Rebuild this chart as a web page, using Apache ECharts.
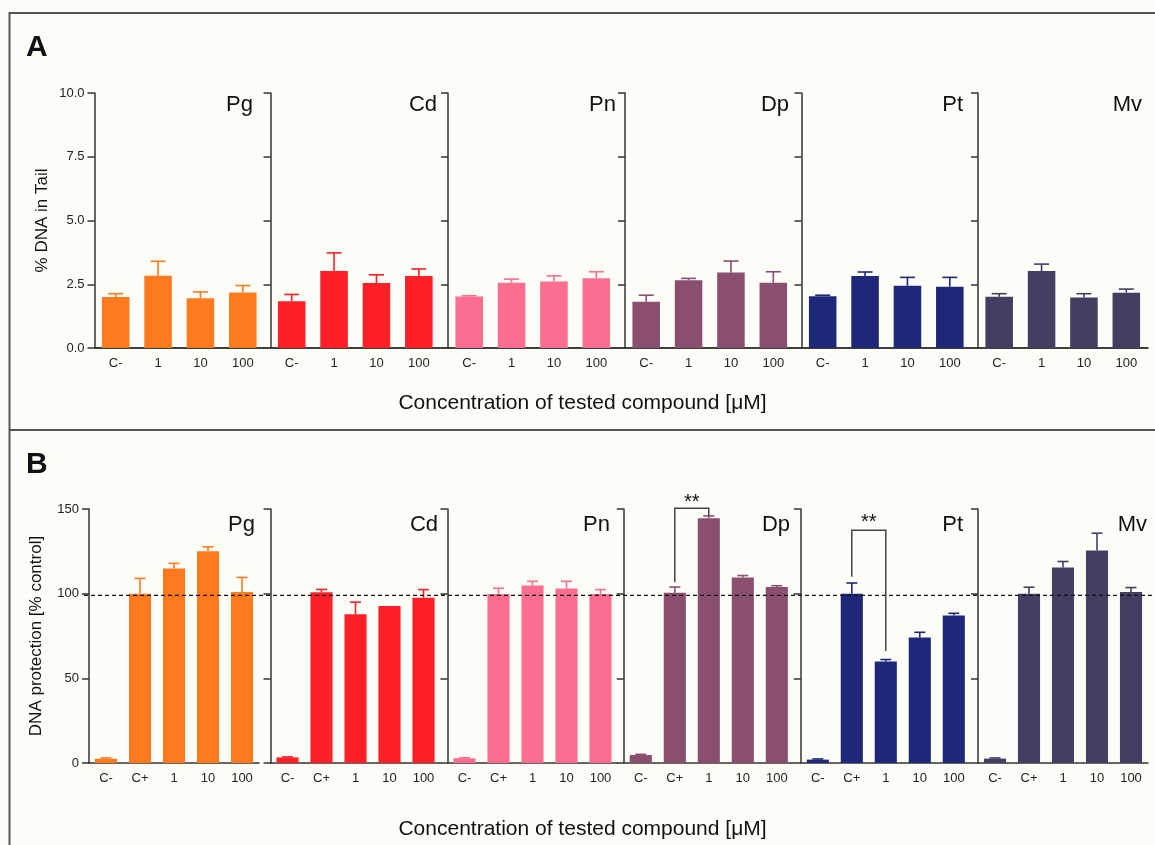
<!DOCTYPE html>
<html><head><meta charset="utf-8">
<script src="https://cdn.jsdelivr.net/npm/echarts@6/dist/echarts.min.js"></script>
<style>html,body{margin:0;padding:0;background:#fdfdf8;}#c{width:1155px;height:845px;}</style>
</head><body><div id="c"></div>
<script>
// ---------- data ----------
const panels = ['Pg', 'Cd', 'Pn', 'Dp', 'Pt', 'Mv'];
const colors = ['#ff7a1f', '#ff1f26', '#fc6e90', '#8a4e6e', '#1f2878', '#443e63'];
const catsA = ['C-', '1', '10', '100'];
const catsB = ['C-', 'C+', '1', '10', '100'];
const ticksA = [0, 2.5, 5, 7.5, 10];
const ticksB = [0, 50, 100, 150];

// Panel A: % DNA in tail (mean, SD)
const tailPg = [2.00, 2.83, 1.95, 2.18];   const tailPgErr = [0.13, 0.57, 0.25, 0.27];
const tailCd = [1.83, 3.02, 2.55, 2.82];   const tailCdErr = [0.27, 0.71, 0.32, 0.28];
const tailPn = [2.02, 2.56, 2.61, 2.74];   const tailPnErr = [0.03, 0.14, 0.22, 0.25];
const tailDp = [1.81, 2.66, 2.96, 2.56];   const tailDpErr = [0.26, 0.07, 0.45, 0.43];
const tailPt = [2.03, 2.82, 2.44, 2.40];   const tailPtErr = [0.04, 0.16, 0.33, 0.37];
const tailMv = [2.01, 3.02, 1.98, 2.17];   const tailMvErr = [0.12, 0.27, 0.15, 0.14];

// Panel B: DNA protection [% control] (mean, SD)
const protPg = [2.5, 100.0, 114.8, 125.0, 101.0];  const protPgErr = [0.5, 9.0, 3.1, 2.6, 8.6];
const protCd = [3.3, 100.8, 87.8, 92.7, 97.6];     const protCdErr = [0.3, 1.7, 7.2, 0, 4.8];
const protPn = [2.8, 99.8, 104.8, 103.0, 99.8];    const protPnErr = [0.3, 3.4, 2.5, 4.3, 2.6];
const protDp = [4.7, 100.6, 144.5, 109.5, 103.9];  const protDpErr = [0.4, 3.3, 1.4, 1.2, 0.8];
const protPt = [2.0, 100.0, 59.9, 74.1, 87.1];     const protPtErr = [0.4, 6.3, 1.2, 3.1, 1.3];
const protMv = [2.6, 100.0, 115.5, 125.5, 101.0];  const protMvErr = [0.4, 3.8, 3.5, 10.2, 2.6];

const controlLine = 99;

// significance brackets in panel B: [panelIndex, fromCat, toCat, topValue, leftBottom, rightBottom, starValue]
const bracketDp = [3, 1, 2, 150.4, 106.7, 146.0, 156.3];
const bracketPt = [4, 1, 2, 137.4, 110.0, 66.2, 145.0];
const sigLabel = '**';

const tailMeans = [tailPg, tailCd, tailPn, tailDp, tailPt, tailMv];
const tailErrs = [tailPgErr, tailCdErr, tailPnErr, tailDpErr, tailPtErr, tailMvErr];
const protMeans = [protPg, protCd, protPn, protDp, protPt, protMv];
const protErrs = [protPgErr, protCdErr, protPnErr, protDpErr, protPtErr, protMvErr];
const brackets = [bracketDp, bracketPt];

// ---------- layout ----------
const FONT = 'Liberation Sans, Arial, Helvetica, sans-serif';
const AX = '#333';
const leftsA = [94.5, 270.5, 448, 625, 801.5, 978];
const leftsB = [89, 270.5, 447.5, 623.8, 800.8, 978];
const titleRightA = [253, 437, 616, 789, 963, 1142];
const titleRightB = [255, 438, 610, 790, 963, 1147];
const A_TOP = 93, A_H = 255, B_TOP = 509, B_H = 254;

const chart = echarts.init(document.getElementById('c'), null, {renderer: 'canvas'});

const grid = [], xAxis = [], yAxis = [], series = [], graphic = [];

function errRender(color, capW) {
  return function (params, api) {
    const x = api.value(0), m = api.value(1), t = api.value(2);
    if (!(t > m)) return null;
    const p0 = api.coord([x, m]), p1 = api.coord([x, t]);
    const h = capW / 2;
    return {type: 'group', children: [
      {type: 'line', shape: {x1: p0[0], y1: p0[1], x2: p1[0], y2: p1[1]}, style: {stroke: color, lineWidth: 1.6}},
      {type: 'line', shape: {x1: p1[0] - h, y1: p1[1], x2: p1[0] + h, y2: p1[1]}, style: {stroke: color, lineWidth: 1.6}}
    ]};
  };
}

function addPanel(idx, left, top, width, height, cats, means, errs, ticks, isFirst, yName, yFmt, capW, color) {
  grid.push({left: left, top: top, width: width, height: height});
  xAxis.push({
    type: 'category', gridIndex: idx, data: cats,
    axisLine: {lineStyle: {color: AX, width: 1.5}},
    axisTick: {alignWithLabel: true, length: 7, lineStyle: {color: AX, width: 1.5}},
    axisLabel: {fontSize: 13, color: '#222', margin: 9, fontFamily: FONT}
  });
  yAxis.push({
    type: 'value', gridIndex: idx, min: ticks[0], max: ticks[ticks.length - 1],
    interval: ticks[1] - ticks[0],
    axisLine: {show: true, lineStyle: {color: AX, width: 1.5}},
    axisTick: {show: true, length: 7, lineStyle: {color: AX, width: 1.5}},
    axisLabel: {show: isFirst, fontSize: 13, color: '#222', margin: 10, fontFamily: FONT, formatter: yFmt},
    splitLine: {show: false},
    name: isFirst ? yName : '', nameLocation: 'middle', nameGap: isFirst ? 44 : 0,
    nameTextStyle: {fontSize: 17, color: '#111', fontFamily: FONT}
  });
  series.push({
    type: 'bar', xAxisIndex: idx, yAxisIndex: idx, data: means,
    barWidth: '65%', itemStyle: {color: color}, silent: true, animation: false
  });
  series.push({
    type: 'custom', xAxisIndex: idx, yAxisIndex: idx, clip: false, animation: false, silent: true,
    data: means.map((m, i) => [i, m, m + errs[i]]),
    renderItem: errRender(color, capW), z: 3
  });
}

let gi = 0;
const aStart = gi;
for (let p = 0; p < panels.length; p++) {
  addPanel(gi++, leftsA[p], A_TOP, 169.5, A_H, catsA, tailMeans[p], tailErrs[p], ticksA, p === 0,
    '% DNA in Tail', v => v.toFixed(1), 15, colors[p]);
}
const bStart = gi;
for (let p = 0; p < panels.length; p++) {
  addPanel(gi++, leftsB[p], B_TOP, 170, B_H, catsB, protMeans[p], protErrs[p], ticksB, p === 0,
    'DNA protection [% control]', v => String(v), 11, colors[p]);
}

// continuous baseline across panel A
grid.push({left: 95, top: A_TOP, width: 1053, height: A_H});
xAxis.push({type: 'value', gridIndex: gi, min: 0, max: 1, axisLine: {show: true, onZero: false, lineStyle: {color: AX, width: 1.5}},
  axisTick: {show: false}, axisLabel: {show: false}, splitLine: {show: false}});
yAxis.push({type: 'value', gridIndex: gi, min: 0, max: 10, show: false});
gi++;

// dashed control line across panel B
grid.push({left: 84, top: B_TOP, width: 1071, height: B_H});
xAxis.push({type: 'value', gridIndex: gi, min: 0, max: 1, show: false});
yAxis.push({type: 'value', gridIndex: gi, min: ticksB[0], max: ticksB[ticksB.length - 1], show: false});
series.push({type: 'line', xAxisIndex: gi, yAxisIndex: gi, data: [[0, controlLine], [1, controlLine]],
  symbol: 'none', silent: true, animation: false, z: 5,
  lineStyle: {color: '#111', width: 1.3, type: [4, 3]}});
gi++;

// significance brackets
brackets.forEach(b => {
  const idx = bStart + b[0];
  series.push({
    type: 'custom', xAxisIndex: idx, yAxisIndex: idx, clip: false, animation: false, silent: true, z: 6,
    data: [[b[1], b[2], b[3], b[4], b[5], b[6]]],
    renderItem: function (params, api) {
      const f = api.value(0), t = api.value(1), top = api.value(2), lb = api.value(3), rb = api.value(4), sv = api.value(5);
      const pl = api.coord([f, lb]), plt = api.coord([f, top]), prt = api.coord([t, top]), pr = api.coord([t, rb]);
      const ps = api.coord([(f + t) / 2, sv]);
      return {type: 'group', children: [
        {type: 'polyline', shape: {points: [pl, plt, prt, pr]}, style: {stroke: '#444', lineWidth: 1.5, fill: null}},
        {type: 'text', x: (plt[0] + prt[0]) / 2, y: ps[1] + 4.6,
          style: {text: sigLabel, fontSize: 20, fontFamily: FONT, fill: '#111', align: 'center', verticalAlign: 'middle'}}
      ]};
    }
  });
});

// panel titles
panels.forEach((name, p) => {
  graphic.push({type: 'text', x: titleRightA[p], y: 105, silent: true,
    style: {text: name, fontSize: 22, fontFamily: FONT, fill: '#111', align: 'right', verticalAlign: 'middle'}});
  graphic.push({type: 'text', x: titleRightB[p], y: 524.5, silent: true,
    style: {text: name, fontSize: 22, fontFamily: FONT, fill: '#111', align: 'right', verticalAlign: 'middle'}});
});

// panel letters and x-axis titles
graphic.push({type: 'text', x: 26, y: 48, style: {text: 'A', fontSize: 30, fontWeight: 'bold', fontFamily: FONT, fill: '#111', verticalAlign: 'middle'}});
graphic.push({type: 'text', x: 26, y: 465, style: {text: 'B', fontSize: 30, fontWeight: 'bold', fontFamily: FONT, fill: '#111', verticalAlign: 'middle'}});
graphic.push({type: 'text', x: 582.5, y: 403, style: {text: 'Concentration of tested compound [\u03bcM]', fontSize: 21, fontFamily: FONT, fill: '#111', align: 'center', verticalAlign: 'middle'}});
graphic.push({type: 'text', x: 582.5, y: 829, style: {text: 'Concentration of tested compound [\u03bcM]', fontSize: 21, fontFamily: FONT, fill: '#111', align: 'center', verticalAlign: 'middle'}});

// frame
const frame = {stroke: '#555', lineWidth: 2};
graphic.push({type: 'line', shape: {x1: 9, y1: 13, x2: 1155, y2: 13}, style: frame});
graphic.push({type: 'line', shape: {x1: 9.5, y1: 12, x2: 9.5, y2: 845}, style: frame});
graphic.push({type: 'line', shape: {x1: 9, y1: 430, x2: 1155, y2: 430}, style: frame});

chart.setOption({
  backgroundColor: '#fdfdf8',
  animation: false,
  textStyle: {fontFamily: FONT},
  grid: grid, xAxis: xAxis, yAxis: yAxis, series: series, graphic: graphic
});
</script></body></html>
